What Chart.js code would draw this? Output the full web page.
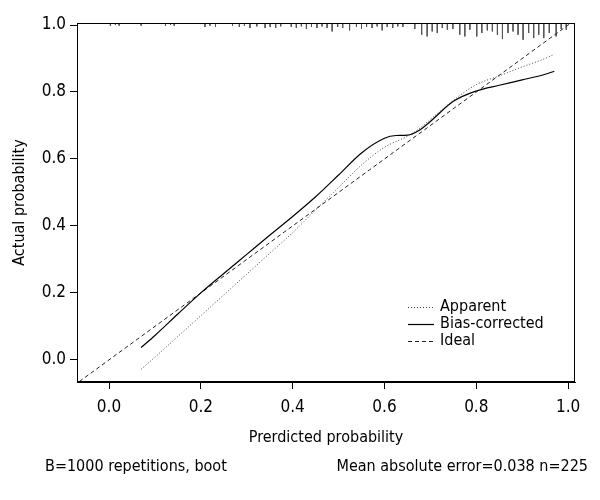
<!DOCTYPE html>
<html><head><meta charset="utf-8">
<script src="https://cdn.jsdelivr.net/npm/chart.js@4"></script>
<style>html,body{margin:0;padding:0;background:#fff}#wrap{width:600px;height:500px;position:relative}</style>
</head><body><div id="wrap"><canvas id="c" width="600" height="500"></canvas></div>
<script>
// ---- data ----
const predicted = [0.07,0.10,0.15,0.20,0.25,0.30,0.35,0.40,0.45,0.50,0.55,0.60,0.625,0.65,0.675,0.70,0.75,0.80,0.85,0.90,0.95,0.97];
const apparent = [-0.028,0.008,0.070,0.132,0.194,0.256,0.318,0.380,0.448,0.515,0.582,0.635,0.652,0.668,0.690,0.718,0.775,0.822,0.848,0.875,0.900,0.913];
const biasCorrected = [0.037,0.073,0.137,0.200,0.258,0.315,0.372,0.428,0.487,0.552,0.618,0.662,0.670,0.671,0.685,0.712,0.772,0.803,0.820,0.836,0.853,0.862];
const idealLine = [-0.2, 1.2];
const rugX = [0.003,0.014,0.022,0.070,0.123,0.134,0.142,0.209,0.220,0.232,0.269,0.284,0.295,0.307,0.322,0.340,0.351,0.363,0.374,0.397,0.408,0.419,0.430,0.441,0.453,0.464,0.475,0.486,0.498,0.509,0.524,0.539,0.550,0.561,0.573,0.584,0.595,0.606,0.618,0.629,0.640,0.666,0.681,0.693,0.704,0.715,0.726,0.737,0.749,0.764,0.775,0.786,0.801,0.812,0.824,0.835,0.846,0.857,0.869,0.880,0.891,0.902,0.914,0.925,0.936,0.947,0.959,0.974,0.985,0.996];
const rugLen = [0.008,0.006,0.008,0.008,0.008,0.006,0.008,0.012,0.008,0.012,0.008,0.012,0.008,0.015,0.010,0.015,0.012,0.015,0.010,0.012,0.015,0.010,0.018,0.012,0.015,0.010,0.015,0.025,0.012,0.015,0.022,0.012,0.018,0.012,0.015,0.010,0.022,0.012,0.015,0.010,0.012,0.018,0.035,0.040,0.025,0.030,0.015,0.020,0.018,0.035,0.040,0.020,0.040,0.030,0.022,0.025,0.035,0.048,0.030,0.025,0.035,0.050,0.030,0.045,0.035,0.045,0.030,0.040,0.018,0.020];
const xTicks = [0.0,0.2,0.4,0.6,0.8,1.0];
const yTicks = [0.0,0.2,0.4,0.6,0.8,1.0];
const legendLabels = ['Apparent','Bias-corrected','Ideal'];
const footerLeft = 'B=1000 repetitions, boot';
const footerRight = 'Mean absolute error=0.038 n=225';
const xTitle = 'Prerdicted probability';
const yTitle = 'Actual probability';

// ---- chart ----
const FAMILY = '"DejaVu Sans", sans-serif';
const FSIZE = 17;
const TSIZE = 16;
const STRETCH = 'condensed';
Chart.defaults.font.family = FAMILY;
Chart.defaults.font.size = FSIZE;
Chart.defaults.font.weight = STRETCH;
Chart.defaults.color = '#000';

const X_MIN = -0.0697, X_MAX = 1.015, Y_MIN = -0.066, Y_MAX = 1.006;

const rugData = [];
rugX.forEach((x, i) => {
  rugData.push({x: x, y: Y_MAX});
  rugData.push({x: x, y: Y_MAX - rugLen[i]});
  rugData.push({x: x, y: null});
});

const styles = [
  {color:'#444', dash:[1,2], width:1},
  {color:'#000', dash:[], width:1.2},
  {color:'#222', dash:[4,3], width:1}
];

const extras = {
  id: 'extras',
  afterDraw(chart) {
    const {ctx, chartArea: a} = chart;
    ctx.save();
    ctx.strokeStyle = '#000';
    ctx.lineWidth = 1;
    ctx.setLineDash([]);
    ctx.strokeRect(Math.round(a.left) + 0.5, Math.round(a.top) + 0.5, Math.round(a.right - a.left) - 1, Math.round(a.bottom - a.top) - 1);
    // legend
    ctx.font = STRETCH + ' ' + TSIZE + 'px ' + FAMILY;
    ctx.textBaseline = 'middle';
    ctx.textAlign = 'left';
    const rows = [307, 324, 341];
    legendLabels.forEach((lab, i) => {
      const s = styles[i];
      ctx.strokeStyle = s.color;
      ctx.lineWidth = s.width;
      ctx.setLineDash(s.dash);
      ctx.beginPath();
      ctx.moveTo(408, rows[i] + 0.5);
      ctx.lineTo(434, rows[i] + 0.5);
      ctx.stroke();
      ctx.fillStyle = '#000';
      ctx.fillText(lab, 440, rows[i]);
    });
    ctx.setLineDash([]);
    // footer
    ctx.fillText(footerLeft, 45, 467);
    ctx.textAlign = 'right';
    ctx.fillText(footerRight, 588, 467);
    ctx.restore();
  }
};

new Chart(document.getElementById('c'), {
  type: 'line',
  data: {
    datasets: [
      {label: legendLabels[0], data: predicted.map((x,i)=>({x, y: apparent[i]})), borderColor: styles[0].color, borderDash: styles[0].dash, borderWidth: styles[0].width, pointRadius: 0, cubicInterpolationMode: 'monotone', fill: false},
      {label: legendLabels[1], data: predicted.map((x,i)=>({x, y: biasCorrected[i]})), borderColor: styles[1].color, borderDash: styles[1].dash, borderWidth: styles[1].width, pointRadius: 0, cubicInterpolationMode: 'monotone', fill: false},
      {label: legendLabels[2], data: idealLine.map(v=>({x: v, y: v})), borderColor: styles[2].color, borderDash: styles[2].dash, borderWidth: styles[2].width, pointRadius: 0, tension: 0, fill: false},
      {label: 'rug', data: rugData, borderColor: '#555', borderWidth: 1, pointRadius: 0, spanGaps: false, tension: 0, fill: false}
    ]
  },
  options: {
    responsive: false,
    animation: false,
    devicePixelRatio: 1,
    layout: {padding: {left: 0, top: 23, right: 25, bottom: 50}},
    plugins: {legend: {display: false}, tooltip: {enabled: false}},
    scales: {
      x: {
        type: 'linear', min: X_MIN, max: X_MAX,
        afterBuildTicks: s => { s.ticks = xTicks.map(v => ({value: v})); },
        afterFit: s => { s.height = 68; },
        ticks: {autoSkip: false, maxRotation: 0, padding: 8, callback: v => Number(v).toFixed(1), color: '#000'},
        grid: {drawOnChartArea: false, drawTicks: true, tickLength: 7, color: '#000'},
        border: {display: true, color: '#000'},
        title: {display: true, text: xTitle, color: '#000', font: {size: TSIZE}, padding: {top: 0, bottom: 3}}
      },
      y: {
        type: 'linear', min: Y_MIN, max: Y_MAX,
        afterBuildTicks: s => { s.ticks = yTicks.map(v => ({value: v})); },
        afterFit: s => { s.width = 77; },
        ticks: {autoSkip: false, padding: 4, callback: v => Number(v).toFixed(1), color: '#000'},
        grid: {drawOnChartArea: false, drawTicks: true, tickLength: 7, color: '#000'},
        border: {display: true, color: '#000'},
        title: {display: true, text: yTitle, color: '#000', font: {size: TSIZE}, padding: {top: 10, bottom: 0}}
      }
    }
  },
  plugins: [extras]
});
</script>
</body></html>
